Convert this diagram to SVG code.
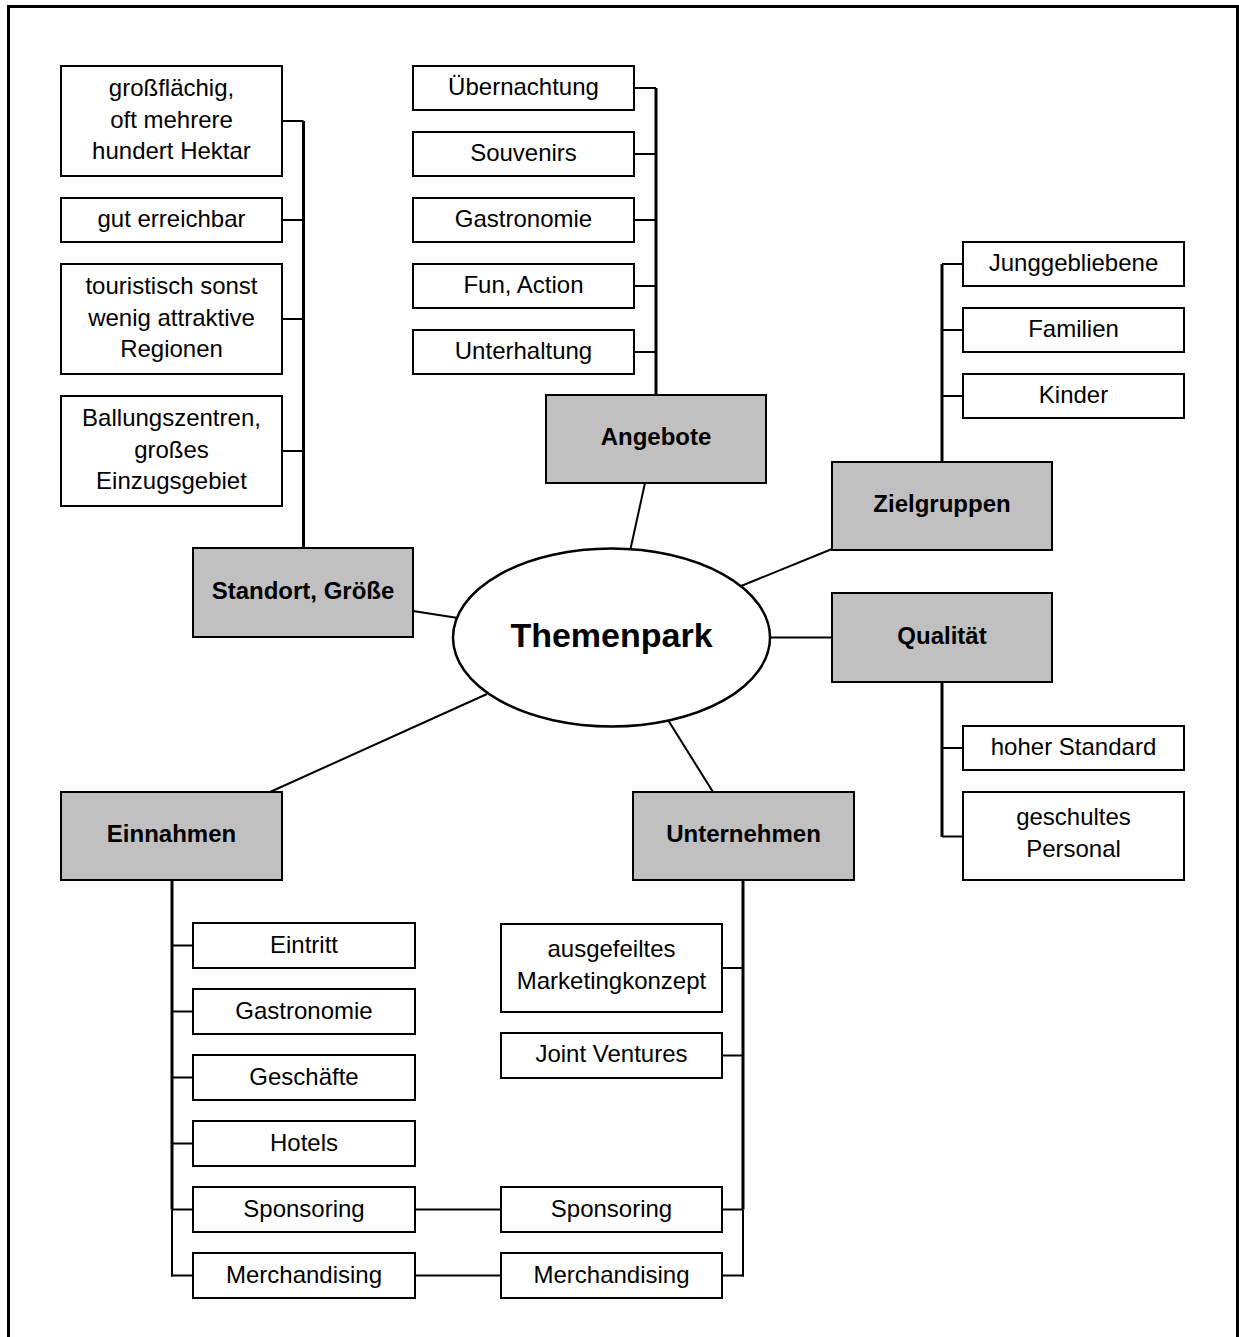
<svg xmlns="http://www.w3.org/2000/svg" width="1239" height="1337" viewBox="0 0 1239 1337">
<style>
.leaf{fill:#fff;stroke:#000;stroke-width:2}
.cat{fill:#c0c0c0;stroke:#000;stroke-width:2}
.t{font-family:"Liberation Sans",Arial,sans-serif;font-size:24px;text-anchor:middle;fill:#000}
.b{font-family:"Liberation Sans",Arial,sans-serif;font-size:24px;font-weight:bold;text-anchor:middle;fill:#000}
.c line,.c path{stroke:#000;stroke-width:2;fill:none}
.c .spine{stroke-width:3}
</style>
<rect width="1239" height="1337" fill="#fff"/>
<path d="M8.5,1337 V6.5 H1237.5 V1337" fill="none" stroke="#000" stroke-width="3"/>

<g id="connectors" class="c">
  <!-- Standort -->
  <line class="spine" x1="303.5" y1="121" x2="303.5" y2="548"/>
  <line x1="282" y1="121" x2="303.5" y2="121"/>
  <line x1="282" y1="220" x2="303.5" y2="220"/>
  <line x1="282" y1="319" x2="303.5" y2="319"/>
  <line x1="282" y1="451" x2="303.5" y2="451"/>
  <!-- Angebote -->
  <line class="spine" x1="656" y1="88" x2="656" y2="395"/>
  <line x1="634" y1="88" x2="656" y2="88"/>
  <line x1="634" y1="154" x2="656" y2="154"/>
  <line x1="634" y1="220" x2="656" y2="220"/>
  <line x1="634" y1="286" x2="656" y2="286"/>
  <line x1="634" y1="352" x2="656" y2="352"/>
  <!-- Zielgruppen -->
  <line class="spine" x1="942" y1="264" x2="942" y2="462"/>
  <line x1="942" y1="264" x2="963" y2="264"/>
  <line x1="942" y1="330" x2="963" y2="330"/>
  <line x1="942" y1="396" x2="963" y2="396"/>
  <!-- Qualitaet -->
  <line class="spine" x1="942" y1="682" x2="942" y2="837"/>
  <line x1="942" y1="748" x2="963" y2="748"/>
  <line x1="942" y1="836.5" x2="963" y2="836.5"/>
  <!-- Einnahmen -->
  <line class="spine" x1="172" y1="880" x2="172" y2="1209.5"/>
  <line x1="172" y1="1209.5" x2="172" y2="1276.5"/>
  <line x1="172" y1="945.5" x2="193" y2="945.5"/>
  <line x1="172" y1="1011.5" x2="193" y2="1011.5"/>
  <line x1="172" y1="1077.5" x2="193" y2="1077.5"/>
  <line x1="172" y1="1143.5" x2="193" y2="1143.5"/>
  <line x1="172" y1="1209.5" x2="193" y2="1209.5"/>
  <line x1="171" y1="1275.5" x2="193" y2="1275.5"/>
  <!-- Unternehmen -->
  <line class="spine" x1="743" y1="880" x2="743" y2="1209.5"/>
  <line x1="743" y1="1209.5" x2="743" y2="1276.5"/>
  <line x1="722" y1="968" x2="743" y2="968"/>
  <line x1="722" y1="1055.5" x2="743" y2="1055.5"/>
  <line x1="722" y1="1209.5" x2="743" y2="1209.5"/>
  <line x1="722" y1="1275.5" x2="744" y2="1275.5"/>
  <!-- cross links -->
  <line x1="415" y1="1209.5" x2="501" y2="1209.5"/>
  <line x1="415" y1="1275.5" x2="501" y2="1275.5"/>
  <!-- hub spokes -->
  <line x1="413" y1="611" x2="458" y2="618"/>
  <line x1="645" y1="483" x2="630.5" y2="549"/>
  <line x1="832" y1="549" x2="741" y2="586"/>
  <line x1="770" y1="637.5" x2="832" y2="637.5"/>
  <line x1="487" y1="694" x2="270" y2="792"/>
  <line x1="668" y1="720" x2="713" y2="792"/>
</g>

<g id="hub">
  <ellipse cx="611.5" cy="637.5" rx="158.5" ry="89" fill="#fff" stroke="#000" stroke-width="2.5"/>
  <text class="b" x="611.5" y="647" style="font-size:34px">Themenpark</text>
</g>

<g id="standort">
  <rect class="cat" x="193" y="548" width="220" height="89"/>
  <text class="b" x="303" y="599">Standort, Größe</text>
</g>
<g id="s1">
  <rect class="leaf" x="61" y="66" width="221" height="110"/>
  <text class="t" x="171.5" y="96">großflächig,</text>
  <text class="t" x="171.5" y="127.5">oft mehrere</text>
  <text class="t" x="171.5" y="159">hundert Hektar</text>
</g>
<g id="s2">
  <rect class="leaf" x="61" y="198" width="221" height="44"/>
  <text class="t" x="171.5" y="227">gut erreichbar</text>
</g>
<g id="s3">
  <rect class="leaf" x="61" y="264" width="221" height="110"/>
  <text class="t" x="171.5" y="294">touristisch sonst</text>
  <text class="t" x="171.5" y="325.5">wenig attraktive</text>
  <text class="t" x="171.5" y="357">Regionen</text>
</g>
<g id="s4">
  <rect class="leaf" x="61" y="396" width="221" height="110"/>
  <text class="t" x="171.5" y="426">Ballungszentren,</text>
  <text class="t" x="171.5" y="457.5">großes</text>
  <text class="t" x="171.5" y="489">Einzugsgebiet</text>
</g>

<g id="angebote">
  <rect class="cat" x="546" y="395" width="220" height="88"/>
  <text class="b" x="656" y="445">Angebote</text>
</g>
<g id="a1"><rect class="leaf" x="413" y="66" width="221" height="44"/><text class="t" x="523.5" y="95">Übernachtung</text></g>
<g id="a2"><rect class="leaf" x="413" y="132" width="221" height="44"/><text class="t" x="523.5" y="161">Souvenirs</text></g>
<g id="a3"><rect class="leaf" x="413" y="198" width="221" height="44"/><text class="t" x="523.5" y="227">Gastronomie</text></g>
<g id="a4"><rect class="leaf" x="413" y="264" width="221" height="44"/><text class="t" x="523.5" y="293">Fun, Action</text></g>
<g id="a5"><rect class="leaf" x="413" y="330" width="221" height="44"/><text class="t" x="523.5" y="359">Unterhaltung</text></g>

<g id="zielgruppen">
  <rect class="cat" x="832" y="462" width="220" height="88"/>
  <text class="b" x="942" y="512">Zielgruppen</text>
</g>
<g id="z1"><rect class="leaf" x="963" y="242" width="221" height="44"/><text class="t" x="1073.5" y="271">Junggebliebene</text></g>
<g id="z2"><rect class="leaf" x="963" y="308" width="221" height="44"/><text class="t" x="1073.5" y="337">Familien</text></g>
<g id="z3"><rect class="leaf" x="963" y="374" width="221" height="44"/><text class="t" x="1073.5" y="403">Kinder</text></g>

<g id="qualitaet">
  <rect class="cat" x="832" y="593" width="220" height="89"/>
  <text class="b" x="942" y="643.5">Qualität</text>
</g>
<g id="q1"><rect class="leaf" x="963" y="726" width="221" height="44"/><text class="t" x="1073.5" y="755">hoher Standard</text></g>
<g id="q2">
  <rect class="leaf" x="963" y="792" width="221" height="88"/>
  <text class="t" x="1073.5" y="825">geschultes</text>
  <text class="t" x="1073.5" y="857">Personal</text>
</g>

<g id="einnahmen">
  <rect class="cat" x="61" y="792" width="221" height="88"/>
  <text class="b" x="171.5" y="842">Einnahmen</text>
</g>
<g id="e1"><rect class="leaf" x="193" y="923" width="222" height="45"/><text class="t" x="304" y="952.5">Eintritt</text></g>
<g id="e2"><rect class="leaf" x="193" y="989" width="222" height="45"/><text class="t" x="304" y="1018.5">Gastronomie</text></g>
<g id="e3"><rect class="leaf" x="193" y="1055" width="222" height="45"/><text class="t" x="304" y="1084.5">Geschäfte</text></g>
<g id="e4"><rect class="leaf" x="193" y="1121" width="222" height="45"/><text class="t" x="304" y="1150.5">Hotels</text></g>
<g id="e5"><rect class="leaf" x="193" y="1187" width="222" height="45"/><text class="t" x="304" y="1216.5">Sponsoring</text></g>
<g id="e6"><rect class="leaf" x="193" y="1253" width="222" height="45"/><text class="t" x="304" y="1282.5">Merchandising</text></g>

<g id="unternehmen">
  <rect class="cat" x="633" y="792" width="221" height="88"/>
  <text class="b" x="743.5" y="842">Unternehmen</text>
</g>
<g id="u1">
  <rect class="leaf" x="501" y="924" width="221" height="88"/>
  <text class="t" x="611.5" y="957">ausgefeiltes</text>
  <text class="t" x="611.5" y="989">Marketingkonzept</text>
</g>
<g id="u2"><rect class="leaf" x="501" y="1033" width="221" height="45"/><text class="t" x="611.5" y="1062">Joint Ventures</text></g>
<g id="u3"><rect class="leaf" x="501" y="1187" width="221" height="45"/><text class="t" x="611.5" y="1216.5">Sponsoring</text></g>
<g id="u4"><rect class="leaf" x="501" y="1253" width="221" height="45"/><text class="t" x="611.5" y="1282.5">Merchandising</text></g>
</svg>
